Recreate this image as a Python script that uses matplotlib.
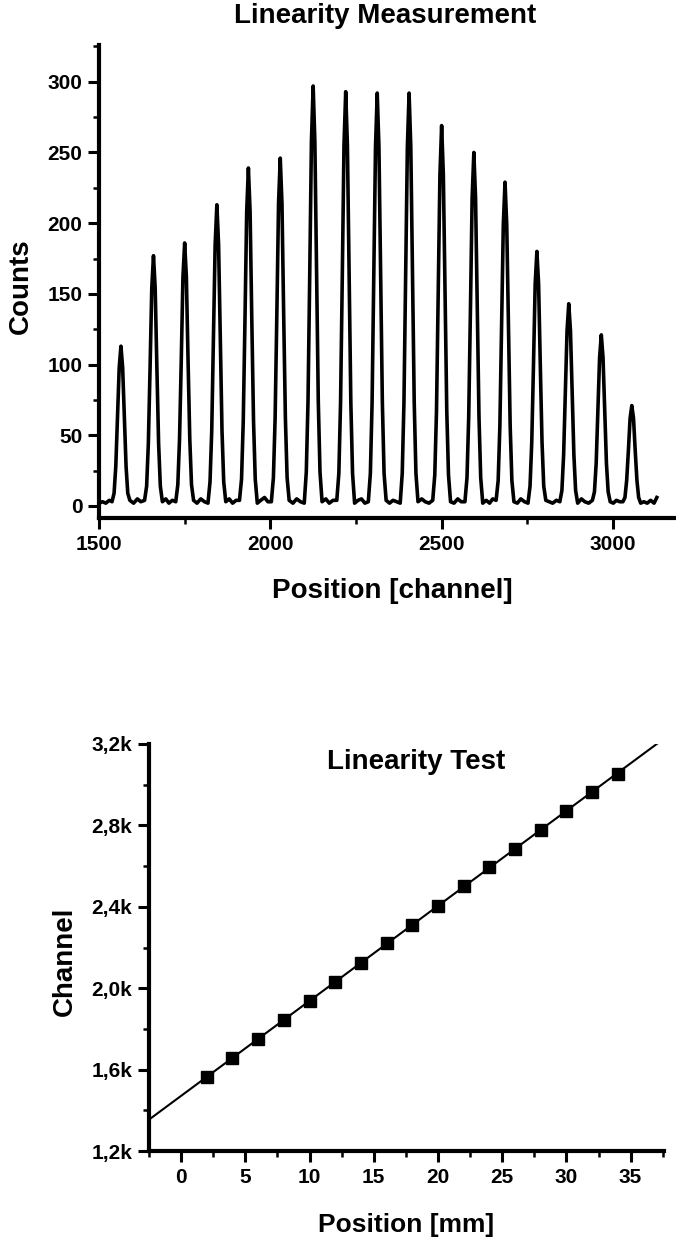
import matplotlib
matplotlib.use('Agg')
import matplotlib.pyplot as plt
import numpy as np
from matplotlib.ticker import MultipleLocator, FuncFormatter

plt.rcParams['font.family'] = ['Liberation Sans', 'DejaVu Sans']
plt.rcParams['font.weight'] = 'bold'

# spectrum trace (channel, counts), one peak per line
trace_channel = [
    1500, 1510, 1520, 1530,
    1538, 1544, 1549, 1554, 1559, 1564, 1569, 1574, 1579, 1584, 1590, 1601, 1612, 1622,
    1633, 1639, 1644, 1649, 1654, 1659, 1664, 1669, 1674, 1679, 1685, 1695, 1704, 1714,
    1724, 1730, 1735, 1740, 1745, 1750, 1755, 1760, 1765, 1770, 1776, 1786, 1797, 1808,
    1818, 1824, 1829, 1834, 1839, 1844, 1849, 1854, 1859, 1864, 1870, 1880, 1890, 1900,
    1910, 1916, 1921, 1926, 1931, 1936, 1941, 1946, 1951, 1956, 1962, 1972, 1983, 1993,
    2003, 2009, 2014, 2019, 2024, 2029, 2034, 2039, 2044, 2049, 2055, 2066, 2077, 2088,
    2099, 2105, 2110, 2115, 2120, 2125, 2130, 2135, 2140, 2145, 2151, 2162, 2172, 2183,
    2194, 2200, 2205, 2210, 2215, 2220, 2225, 2230, 2235, 2240, 2246, 2256, 2266, 2276,
    2286, 2292, 2297, 2302, 2307, 2312, 2317, 2322, 2327, 2332, 2338, 2348, 2358, 2369,
    2379, 2385, 2390, 2395, 2400, 2405, 2410, 2415, 2420, 2425, 2431, 2442, 2452, 2463,
    2474, 2480, 2485, 2490, 2495, 2500, 2505, 2510, 2515, 2520, 2526, 2536, 2547, 2557,
    2568, 2574, 2579, 2584, 2589, 2594, 2599, 2604, 2609, 2614, 2620, 2630, 2640, 2649,
    2659, 2665, 2670, 2675, 2680, 2685, 2690, 2695, 2700, 2705, 2711, 2721, 2731, 2742,
    2752, 2758, 2763, 2768, 2773, 2778, 2783, 2788, 2793, 2798, 2804, 2814, 2824, 2835,
    2845, 2851, 2856, 2861, 2866, 2871, 2876, 2881, 2886, 2891, 2897, 2908, 2918, 2929,
    2940, 2946, 2951, 2956, 2961, 2966, 2971, 2976, 2981, 2986, 2992, 3001, 3010, 3020,
    3029, 3035, 3040, 3045, 3050, 3055, 3060, 3065, 3070, 3075, 3081, 3090, 3100, 3110, 3120, 3128,
]
trace_counts = [
    2, 3, 2, 4,
    3, 9, 28, 62, 98, 113, 98, 62, 28, 9, 4, 2, 5, 3,
    4, 14, 44, 97, 154, 177, 154, 97, 44, 14, 3, 5, 2, 4,
    3, 15, 47, 102, 162, 186, 162, 102, 47, 15, 4, 2, 5, 3,
    2, 17, 53, 117, 185, 213, 185, 117, 53, 17, 3, 5, 2, 4,
    4, 19, 60, 131, 208, 239, 208, 131, 60, 19, 2, 4, 6, 3,
    3, 20, 62, 135, 214, 246, 214, 135, 62, 20, 4, 2, 5, 3,
    2, 24, 74, 163, 258, 297, 258, 163, 74, 24, 3, 5, 2, 4,
    4, 23, 73, 161, 255, 293, 255, 161, 73, 23, 2, 4, 5, 2,
    3, 23, 73, 161, 254, 292, 254, 161, 73, 23, 4, 2, 4, 3,
    2, 23, 73, 161, 254, 292, 254, 161, 73, 23, 3, 5, 3, 2,
    4, 22, 67, 148, 234, 269, 234, 148, 67, 22, 3, 2, 5, 3,
    3, 20, 63, 138, 218, 250, 218, 138, 63, 20, 2, 4, 2, 5,
    4, 18, 57, 126, 199, 229, 199, 126, 57, 18, 3, 2, 5, 3,
    2, 14, 45, 99, 157, 180, 157, 99, 45, 14, 4, 3, 2, 4,
    3, 11, 36, 79, 124, 143, 124, 79, 36, 11, 2, 5, 3, 2,
    4, 10, 30, 67, 105, 121, 105, 67, 30, 10, 3, 2, 4, 3,
    3, 6, 18, 39, 62, 71, 62, 39, 18, 6, 2, 3, 2, 4, 2, 6,
]

# linearity test: source position vs fitted peak channel
position_mm = [2, 4, 6, 8, 10, 12, 14, 16, 18, 20, 22, 24, 26, 28, 30, 32, 34]
peak_channel = [1564, 1659, 1750, 1844, 1936, 2029, 2125, 2220, 2312,
                2405, 2500, 2594, 2685, 2778, 2871, 2966, 3055]

W, H = 676, 1241
fig = plt.figure(figsize=(W / 100, H / 100), dpi=100)


def style_axes(ax):
    ax.spines['right'].set_color('none')
    ax.spines['top'].set_color('none')
    ax.spines['left'].set_linewidth(3)
    ax.spines['bottom'].set_linewidth(3)
    ax.tick_params(which='major', direction='out', length=8, width=2.2, labelsize=15, pad=4)
    ax.tick_params(which='minor', direction='out', length=4, width=1.8)


# ---- upper panel ----
ax1 = fig.add_axes([99 / W, 1 - 518 / H, (676 - 99) / W, (518 - 45) / H])
ax1.plot(trace_channel, trace_counts, color='black', lw=2.6)
ax1.set_xlim(1500, 3184)
ax1.set_ylim(-8.5, 326)
ax1.xaxis.set_major_locator(MultipleLocator(500))
ax1.xaxis.set_minor_locator(MultipleLocator(250))
ax1.yaxis.set_major_locator(MultipleLocator(50))
ax1.yaxis.set_minor_locator(MultipleLocator(25))
style_axes(ax1)
ax1.set_ylabel('Counts', fontsize=20, fontweight='bold')
ax1.yaxis.set_label_coords(-0.113, 0.49)
ax1.set_xlabel('Position [channel]', fontsize=20, fontweight='bold')
ax1.xaxis.set_label_coords(0.508, -0.127)
fig.text(385 / W, 1 - 16 / H, 'Linearity Measurement', ha='center', va='center',
         fontsize=20, fontweight='bold')

# ---- lower panel ----
ax2 = fig.add_axes([149 / W, 1 - 1151 / H, (664 - 149) / W, (1151 - 744) / H])
coef = np.polyfit(position_mm, peak_channel, 1)
xfit = np.array([-2.5, 37.6])
ax2.plot(xfit, np.polyval(coef, xfit), color='black', lw=1.5)
ax2.plot(position_mm, peak_channel, 's', color='black', markersize=9)
ax2.set_xlim(-2.5, 37.6)
ax2.set_ylim(1200, 3200)
ax2.xaxis.set_major_locator(MultipleLocator(5))
ax2.xaxis.set_minor_locator(MultipleLocator(2.5))
ax2.yaxis.set_major_locator(MultipleLocator(400))
ax2.yaxis.set_minor_locator(MultipleLocator(200))
ax2.yaxis.set_major_formatter(FuncFormatter(lambda v, p: ('%.1fk' % (v / 1000)).replace('.', ',')))
style_axes(ax2)
ax2.set_ylabel('Channel', fontsize=20, fontweight='bold')
ax2.yaxis.set_label_coords(-0.138, 0.467)
ax2.set_xlabel('Position [mm]', fontsize=19, fontweight='bold')
ax2.xaxis.set_label_coords(0.499, -0.152)
ax2.text(0.518, 0.956, 'Linearity Test', transform=ax2.transAxes, ha='center', va='center',
         fontsize=20, fontweight='bold')

fig.savefig('out.png', dpi=100)
